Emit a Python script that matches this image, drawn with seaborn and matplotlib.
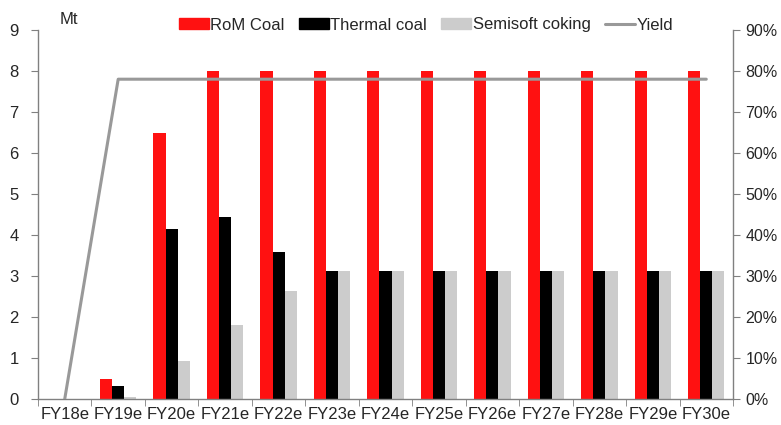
import numpy as np
import pandas as pd
import matplotlib
matplotlib.use("Agg")
import matplotlib.pyplot as plt
import seaborn as sns
from matplotlib.ticker import PercentFormatter, FixedLocator

years = ["FY18e", "FY19e", "FY20e", "FY21e", "FY22e", "FY23e", "FY24e",
         "FY25e", "FY26e", "FY27e", "FY28e", "FY29e", "FY30e"]
rom_coal = [0, 0.5, 6.5, 8, 8, 8, 8, 8, 8, 8, 8, 8, 8]
thermal_coal = [0, 0.32, 4.15, 4.44, 3.59, 3.13, 3.13, 3.13, 3.13, 3.13, 3.13, 3.13, 3.13]
semisoft_coking = [0, 0.06, 0.92, 1.8, 2.64, 3.13, 3.13, 3.13, 3.13, 3.13, 3.13, 3.13, 3.13]
yield_pct = [0, 0.78, 0.78, 0.78, 0.78, 0.78, 0.78, 0.78, 0.78, 0.78, 0.78, 0.78, 0.78]

series_names = ["RoM Coal", "Thermal coal", "Semisoft coking"]
colors = ["#FF1111", "#000000", "#CCCCCC"]

df = pd.DataFrame({
    "Year": years * 3,
    "Value": rom_coal + thermal_coal + semisoft_coking,
    "Series": [s for s in series_names for _ in years],
})

sns.set_style("white")
plt.rcParams["font.family"] = ["Liberation Sans", "DejaVu Sans"]
plt.rcParams["font.size"] = 12

fig = plt.figure(figsize=(7.81, 4.25), dpi=100)
ax = fig.add_axes([38 / 781, 1 - 399 / 425, (733 - 38) / 781, (399 - 30) / 425])

sns.barplot(data=df, x="Year", y="Value", hue="Series", palette=colors,
            width=0.68, gap=0, saturation=1, linewidth=0, ax=ax, legend=False)
ax.set_xlim(-0.5, 12.5)
ax.set_ylim(0, 9)
ax.set_yticks(range(10))
ax.set_xlabel("")
ax.set_ylabel("")

ax2 = ax.twinx()
sns.lineplot(x=np.arange(len(years)), y=yield_pct, color="#999999", lw=2.2, ax=ax2)
ax2.set_ylim(0, 0.9)
ax2.set_yticks(np.arange(0, 0.91, 0.1))
ax2.yaxis.set_major_formatter(PercentFormatter(1.0, decimals=0))
ax2.set_xlim(-0.5, 12.5)

spine_col = "#808080"
for a in (ax, ax2):
    a.spines["top"].set_visible(False)
    for s in ["left", "right", "bottom"]:
        a.spines[s].set_color(spine_col)
        a.spines[s].set_linewidth(1)
ax.spines["right"].set_visible(False)
ax2.spines["left"].set_visible(False)
ax2.spines["bottom"].set_visible(False)

ax.tick_params(axis="y", which="major", direction="out", length=5, color=spine_col,
               labelsize=12, pad=9, left=True)
ax2.tick_params(axis="y", which="major", direction="out", length=5, color=spine_col,
                labelsize=11.5, pad=4, right=True)
ax.set_xticks(range(len(years)))
ax.set_xticklabels(years)
ax.tick_params(axis="x", which="major", length=0, labelsize=12, pad=6)
ax.xaxis.set_minor_locator(FixedLocator(np.arange(-0.5, 12.6, 1)))
ax.tick_params(axis="x", which="minor", direction="out", length=5, color=spine_col, bottom=True)

handles = [plt.Rectangle((0, 0), 1, 1, color=c) for c in colors]
handles.append(plt.Line2D([0], [0], color="#999999", lw=2.2))
fig.legend(handles, series_names + ["Yield"], loc="center",
           bbox_to_anchor=(426 / 781, 1 - 25 / 425), ncol=4, frameon=False,
           fontsize=12, handlelength=1.8, handleheight=0.6, handletextpad=0.1,
           columnspacing=0.85, borderpad=0)

fig.text(60 / 781, 1 - 20 / 425, "Mt", fontsize=12, va="center", ha="left")

fig.savefig("out.png", dpi=100)
